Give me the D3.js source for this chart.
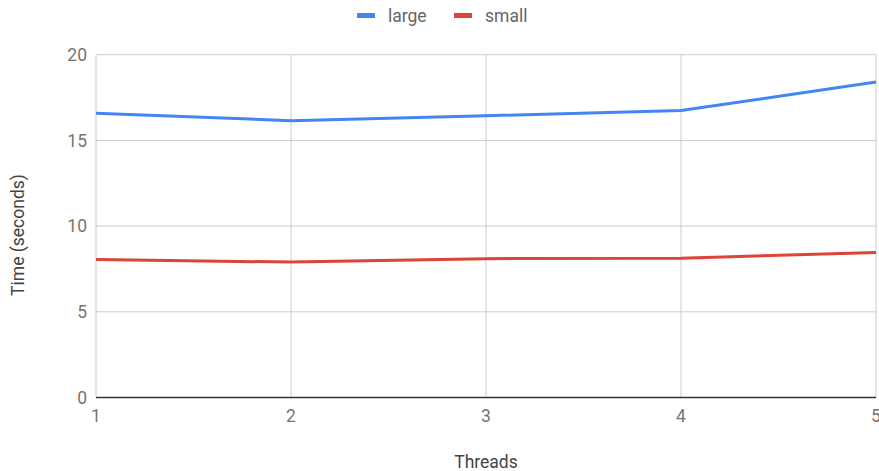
<!DOCTYPE html>
<html><head><meta charset="utf-8">
<script src="https://cdn.jsdelivr.net/npm/d3@7"></script>
<style>
body{margin:0;background:#fff;}
text{font-family:Roboto,"Noto Sans",sans-serif;}
</style></head>
<body><svg id="c" width="879" height="471"></svg>
<script>
const threads = [1, 2, 3, 4, 5];
const largeTimes = [16.58, 16.15, 16.44, 16.74, 18.41];
const smallTimes = [8.05, 7.9, 8.1, 8.13, 8.46];
const yTicks = [0, 5, 10, 15, 20];
const seriesNames = ["large", "small"];
const seriesColors = ["#4285F4", "#DB4437"];

const svg = d3.select("#c");
const pL = 96, pR = 876, pT = 54.7, pB = 397.5;
const x = d3.scaleLinear().domain([1, 5]).range([pL, pR]);
const y = d3.scaleLinear().domain([0, 20]).range([pB, pT]);

// grid
const g = svg.append("g");
g.selectAll("line.h").data(yTicks.filter(d => d > 0)).join("line")
  .attr("x1", pL).attr("x2", pR)
  .attr("y1", d => y(d)).attr("y2", d => y(d))
  .attr("stroke", "#cccccc").attr("stroke-width", 1);
g.selectAll("line.v").data(threads).join("line")
  .attr("x1", d => x(d)).attr("x2", d => x(d))
  .attr("y1", pT).attr("y2", pB)
  .attr("stroke", "#cccccc").attr("stroke-width", 1);

// y labels
svg.selectAll("text.yl").data(yTicks).join("text")
  .attr("x", pL - 9).attr("y", d => y(d)).attr("dy", "0.35em")
  .attr("text-anchor", "end").attr("font-size", 17.5).attr("fill", "#757575")
  .text(d => d);
// x labels
svg.selectAll("text.xl").data(threads).join("text")
  .attr("x", d => x(d)).attr("y", pB + 24)
  .attr("text-anchor", "middle").attr("font-size", 17.5).attr("fill", "#757575")
  .text(d => d);

// lines
const line = d3.line().x((d, i) => x(threads[i])).y(d => y(d));
[largeTimes, smallTimes].forEach((vals, i) => {
  svg.append("path").datum(vals).attr("d", line)
    .attr("fill", "none").attr("stroke", seriesColors[i]).attr("stroke-width", 3)
    .attr("stroke-linejoin", "round");
});

// baseline
svg.append("line").attr("x1", pL).attr("x2", pR)
  .attr("y1", pB).attr("y2", pB)
  .attr("stroke", "#333333").attr("stroke-width", 1.3);

// axis titles
svg.append("text").attr("x", 486).attr("y", 468)
  .attr("text-anchor", "middle").attr("font-size", 17.5).attr("fill", "#444")
  .text("Threads");
svg.append("text").attr("transform", "translate(24,235) rotate(-90)")
  .attr("text-anchor", "middle").attr("font-size", 17.5).attr("fill", "#444")
  .text("Time (seconds)");

// legend
const legX = [357, 454];
seriesNames.forEach((n, i) => {
  svg.append("rect").attr("x", legX[i]).attr("y", 13).attr("width", 18).attr("height", 5)
    .attr("fill", seriesColors[i]);
  svg.append("text").attr("x", legX[i] + 31).attr("y", 16).attr("dy", "0.35em")
    .attr("font-size", 17.5).attr("fill", "#666").text(n);
});
</script></body></html>
